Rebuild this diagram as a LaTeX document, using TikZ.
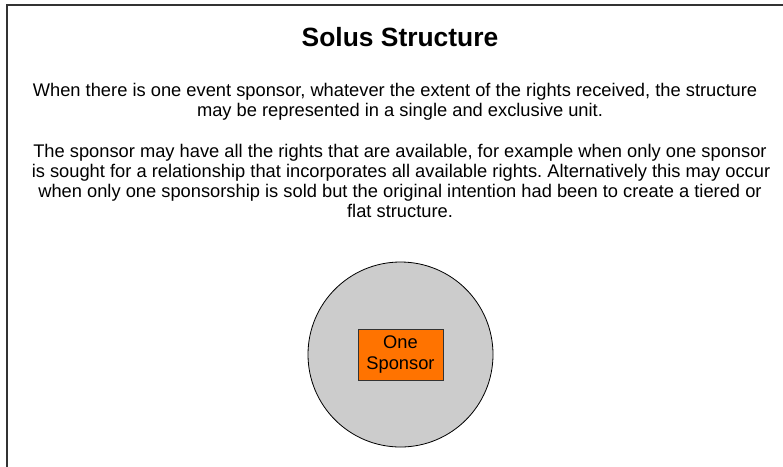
\documentclass[tikz,border=0pt]{standalone}
\usepackage{fontspec}
\setmainfont{Liberation Sans}
\frenchspacing
\definecolor{circgray}{HTML}{CCCCCC}
\definecolor{sponsororange}{HTML}{FF7300}
\definecolor{framegray}{HTML}{333333}
\begin{document}
\begin{tikzpicture}[x=1pt,y=-1pt,
  bodytext/.style={align=center, font=\fontsize{18.3}{20}\selectfont, inner sep=0pt},
  titletext/.style={font=\fontsize{26.4}{30}\selectfont\bfseries, inner sep=0pt},
  unitcircle/.style={circle, draw=black, line width=0.8pt, fill=circgray, minimum size=185pt, inner sep=0pt},
  sponsorbox/.style={rectangle, draw=black!80, line width=0.8pt, fill=sponsororange, minimum width=85pt, minimum height=51pt, align=center, font=\fontsize{18.3}{21.5}\selectfont, inner sep=0pt}]
\useasboundingbox (0,0) rectangle (783,466);
\fill[white] (0,0) rectangle (783,466);
\draw[framegray, line width=1.6pt] (7,470) -- (7,5) -- (790,5);
\node[titletext, anchor=base] (title) at (400,46) {Solus Structure};
\node[bodytext, anchor=base] (p1a) at (395,96) {When there is one event sponsor, whatever the extent of the rights received, the structure};
\node[bodytext, anchor=base] (p1b) at (400,116) {may be represented in a single and exclusive unit.};
\node[bodytext, anchor=base] (p2a) at (400,157) {The sponsor may have all the rights that are available, for example when only one sponsor};
\node[bodytext, anchor=base] (p2b) at (401,177) {is sought for a relationship that incorporates all available rights. Alternatively this may occur};
\node[bodytext, anchor=base] (p2c) at (400,197) {when only one sponsorship is sold but the original intention had been to create a tiered or};
\node[bodytext, anchor=base] (p2d) at (400,217) {flat structure.};
\node[unitcircle] (unit) at (400.5,354.5) {};
\node[sponsorbox] (sponsor) at (400.5,354.5) {One\\Sponsor};
\end{tikzpicture}
\end{document}
